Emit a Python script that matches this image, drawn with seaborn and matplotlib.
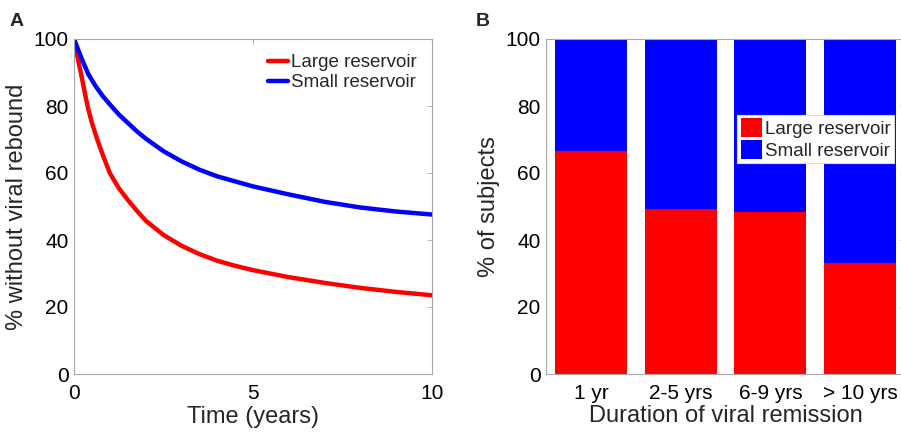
import matplotlib
matplotlib.use("Agg")
import matplotlib.pyplot as plt
from matplotlib.patches import Patch
import seaborn as sns
import pandas as pd

# --- data ---
t_large = [0, 0.1, 0.2, 0.3, 0.4, 0.5, 0.65, 0.8, 1.0, 1.25, 1.5, 1.75, 2.0, 2.5,
           3.0, 3.5, 4.0, 4.5, 5.0, 6.0, 7.0, 8.0, 9.0, 10.0]
large_curve = [100, 94.5, 89.5, 84, 79, 75, 70, 65.5, 60, 55.5, 52, 48.8, 45.8, 41.5,
               38.3, 35.8, 33.8, 32.3, 31.0, 28.9, 27.2, 25.7, 24.5, 23.5]
t_small = [0, 0.2, 0.4, 0.6, 0.8, 1.0, 1.25, 1.5, 1.75, 2.0, 2.5, 3.0, 3.5, 4.0,
           4.5, 5.0, 6.0, 7.0, 8.0, 9.0, 10.0]
small_curve = [100, 94.5, 89.5, 86, 83, 80.5, 77.5, 75, 72.5, 70.3, 66.5, 63.5, 61, 59,
               57.5, 56.0, 53.6, 51.4, 49.7, 48.5, 47.6]

durations = ["1 yr", "2-5 yrs", "6-9 yrs", "> 10 yrs"]
large_pct = [66.7, 49.3, 48.3, 33.0]
total_pct = [100, 100, 100, 100]

RED = "#ff0000"
BLUE = "#0000ff"
SPINE = "#a8a8a8"

sns.set_theme(style="white")
plt.rcParams["font.family"] = ["Liberation Sans", "DejaVu Sans"]

fig = plt.figure(figsize=(9.01, 4.32), dpi=100)
ax1 = fig.add_axes([74 / 901, 1 - 374 / 432, 358 / 901, 335 / 432])
ax2 = fig.add_axes([546 / 901, 1 - 374 / 432, 359 / 901, 335 / 432])

# --- panel A: curves ---
df_large = pd.DataFrame({"t": t_large, "pct": large_curve})
df_small = pd.DataFrame({"t": t_small, "pct": small_curve})
sns.lineplot(data=df_large, x="t", y="pct", ax=ax1, color=RED, linewidth=3.2, label="Large reservoir")
sns.lineplot(data=df_small, x="t", y="pct", ax=ax1, color=BLUE, linewidth=3.2, label="Small reservoir")
ax1.set_xlim(0, 10)
ax1.set_ylim(0, 100)
ax1.set_xticks([0, 5, 10])
ax1.set_yticks([0, 20, 40, 60, 80, 100])
ax1.set_xlabel("Time (years)", fontsize=17, labelpad=2)
ax1.set_ylabel("% without viral rebound", fontsize=17, labelpad=4)
ax1.legend(loc="upper right", fontsize=13.5, frameon=False, handlelength=1.1,
           handletextpad=0.15, labelspacing=0.15, borderaxespad=0.4)

# --- panel B: stacked bars ---
df_bar = pd.DataFrame({"duration": durations, "large": large_pct, "total": total_pct})
sns.barplot(data=df_bar, x="duration", y="total", ax=ax2, color=BLUE, width=0.8,
            saturation=1, edgecolor="none")
sns.barplot(data=df_bar, x="duration", y="large", ax=ax2, color=RED, width=0.8,
            saturation=1, edgecolor="none")
ax2.set_xlim(-0.5, 3.5)
ax2.set_ylim(0, 100)
ax2.set_yticks([0, 20, 40, 60, 80, 100])
ax2.set_xlabel("Duration of viral remission", fontsize=17, labelpad=2)
ax2.set_ylabel("% of subjects", fontsize=17, labelpad=4)
handles = [Patch(facecolor=RED, edgecolor="none"), Patch(facecolor=BLUE, edgecolor="none")]
leg2 = ax2.legend(handles, ["Large reservoir", "Small reservoir"], loc="upper right",
                  bbox_to_anchor=(0.97, 0.773), fontsize=13.5, frameon=True, fancybox=False,
                  handlelength=1.15, handleheight=1.15, handletextpad=0.15, labelspacing=0.1,
                  borderpad=0.18, borderaxespad=0)
leg2.get_frame().set_edgecolor("#dddddd")
leg2.get_frame().set_linewidth(0.8)
leg2.get_frame().set_alpha(1)

for ax in (ax1, ax2):
    for sp in ax.spines.values():
        sp.set_color(SPINE)
        sp.set_linewidth(0.8)
        sp.set_visible(True)
    ax.tick_params(which="both", direction="in", length=3.5, width=0.6, color=SPINE,
                   labelsize=15, labelcolor="black", top=True, right=True, pad=4)
    ax.tick_params(axis="x", pad=7)

fig.text(17 / 901, 1 - 22 / 432, "A", fontsize=14, fontweight="bold", ha="center", va="center")
fig.text(483 / 901, 1 - 22 / 432, "B", fontsize=14, fontweight="bold", ha="center", va="center")

fig.savefig("out.png", dpi=100)
